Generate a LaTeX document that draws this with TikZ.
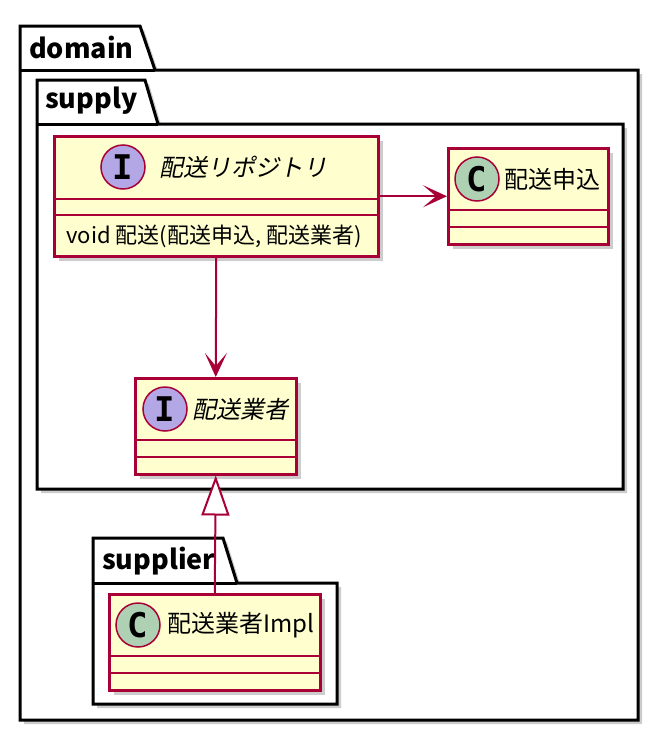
\documentclass[tikz,border=0pt]{standalone}
\usepackage{fontspec}
\setmainfont{Noto Sans CJK JP}
\newfontfamily\slantjp[FakeSlant=0.2]{Noto Sans CJK JP}
\newfontfamily\monobold{DejaVu Sans Mono Bold}
\usetikzlibrary{arrows.meta,shadows}
\definecolor{umlred}{HTML}{A80036}
\definecolor{umlyellow}{HTML}{FEFECE}
\definecolor{ifacepurple}{HTML}{B4A7E5}
\definecolor{classgreen}{HTML}{ADD1B2}
\tikzset{
  pkg/.style={draw=black, line width=3pt, fill=white,
    drop shadow={shadow xshift=4pt, shadow yshift=-4pt, opacity=0.4}},
  pkglabel/.style={anchor=west, inner sep=0pt, font=\bfseries\fontsize{27}{30}\selectfont},
  umlbox/.style={draw=umlred, line width=2.5pt, fill=umlyellow, anchor=north west,
    inner sep=0pt, drop shadow={shadow xshift=5pt, shadow yshift=-5pt, opacity=0.4}},
  compart/.style={draw=umlred, line width=2.5pt},
  stereo/.style={circle, draw=umlred, line width=1.5pt, minimum size=44pt, inner sep=0pt,
    font=\monobold\fontsize{34}{34}\selectfont},
  cname/.style={inner sep=0pt, font=\fontsize{24}{28}\selectfont},
  iname/.style={inner sep=0pt, font=\slantjp\fontsize{24}{28}\selectfont},
  opname/.style={inner sep=0pt, font=\fontsize{22}{26}\selectfont},
  assoc/.style={draw=umlred, line width=2pt, -{Stealth[length=24pt 0,width=22pt 0,inset=13pt]}},
  realize/.style={draw=umlred, line width=2pt, -{Triangle[open,length=40pt 0,width=28pt 0,fill=white]}}
}
\begin{document}
\begin{tikzpicture}[x=1pt,y=-1pt]
\useasboundingbox (0,0) rectangle (668,736);
% packages
\path[pkg] (20,70) -- (20,26) -- (140,26) -- (155,70) -- (638,70) -- (638,720) -- (20,720) -- cycle;
\draw[line width=3pt] (20,70) -- (155,70);
\node[pkglabel] (domain) at (29,47) {domain};
\path[pkg] (37,124) -- (37,80) -- (145,80) -- (158,124) -- (623,124) -- (623,489) -- (37,489) -- cycle;
\draw[line width=3pt] (37,124) -- (158,124);
\node[pkglabel] (supply) at (45,101) {supply};
\path[pkg] (93,583) -- (93,538) -- (223,538) -- (237,583) -- (337,583) -- (337,704) -- (93,704) -- cycle;
\draw[line width=3pt] (93,583) -- (237,583);
\node[pkglabel] (supplier) at (102,561) {supplier};
% classes
\node[umlbox, minimum width=324pt, minimum height=120pt] (repo) at (53,135) {};
\draw[compart] ([yshift=-64pt]repo.north west) -- ([yshift=-64pt]repo.north east);
\draw[compart] ([yshift=-80pt]repo.north west) -- ([yshift=-80pt]repo.north east);
\node[stereo, fill=ifacepurple] (repoI) at (123,167) {I};
\node[iname] (reponame) at (243,167) {配送リポジトリ};
\node[opname] (repoop) at (214,236) {void 配送(配送申込, 配送業者)};

\node[umlbox, minimum width=160pt, minimum height=96pt] (apply) at (447,147) {};
\draw[compart] ([yshift=-63pt]apply.north west) -- ([yshift=-63pt]apply.north east);
\draw[compart] ([yshift=-80pt]apply.north west) -- ([yshift=-80pt]apply.north east);
\node[stereo, fill=classgreen] (applyC) at (477,179) {C};
\node[cname] (applyname) at (552,179) {配送申込};

\node[umlbox, minimum width=161pt, minimum height=96pt] (carrier) at (134,377) {};
\draw[compart] ([yshift=-63pt]carrier.north west) -- ([yshift=-63pt]carrier.north east);
\draw[compart] ([yshift=-80pt]carrier.north west) -- ([yshift=-80pt]carrier.north east);
\node[stereo, fill=ifacepurple] (carrierI) at (165,409) {I};
\node[iname] (carriername) at (240,409) {配送業者};

\node[umlbox, minimum width=211pt, minimum height=96pt] (impl) at (108,593) {};
\draw[compart] ([yshift=-63pt]impl.north west) -- ([yshift=-63pt]impl.north east);
\draw[compart] ([yshift=-80pt]impl.north west) -- ([yshift=-80pt]impl.north east);
\node[stereo, fill=classgreen] (implC) at (138,625) {C};
\node[cname] (implname) at (241,625) {配送業者Impl};
% relations
\draw[assoc] (repo.east) -- (apply.west);
\draw[assoc] (repo.south) -- (carrier.north);
\draw[realize] (impl.north) -- (carrier.south);
\end{tikzpicture}
\end{document}
